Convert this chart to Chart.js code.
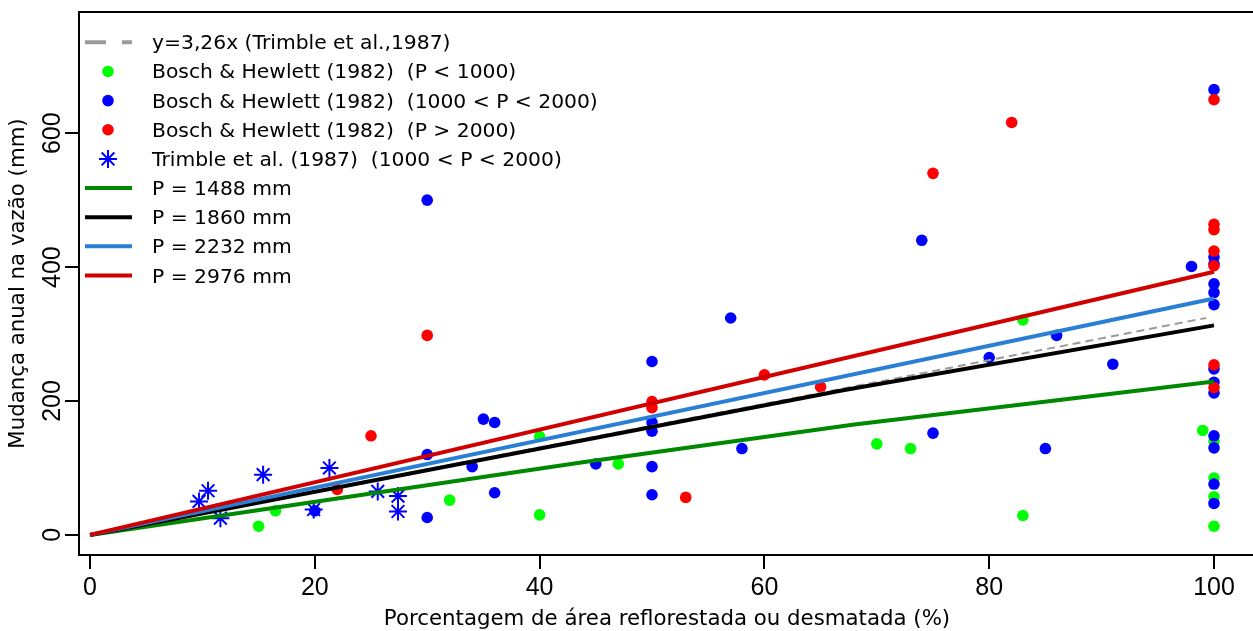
<!DOCTYPE html>
<html><head><meta charset="utf-8">
<script src="https://cdn.jsdelivr.net/npm/chart.js@4.4.1/dist/chart.umd.min.js"></script>
<style>html,body{margin:0;padding:0;background:#fff;overflow:hidden}</style>
</head><body>
<canvas id="c" width="1253" height="631"></canvas>
<script>
// ---- axis ticks ----
const xTicks = [0, 20, 40, 60, 80, 100];
const yTicks = [0, 200, 400, 600];

// ---- Bosch & Hewlett (1982) P < 1000 ----
const greenX = [15, 16.5, 32, 40, 40, 47, 70, 73, 83, 83, 99, 100, 100, 100, 100];
const greenY = [13, 36, 52, 147, 30, 106, 136, 129, 321, 29, 156, 140, 85, 57, 13];

// ---- Bosch & Hewlett (1982) 1000 < P < 2000 ----
const blueX = [30, 30, 30, 34, 35, 36, 36, 45, 50, 50, 50, 50, 50, 57, 58, 74, 75, 80, 85, 86, 91, 98,
               100, 100, 100, 100, 100, 100, 100, 100, 100, 100, 100, 100, 100, 20];
const blueY = [500, 120, 26, 102, 173, 168, 63, 106, 259, 168, 155, 102, 60, 324, 129, 440, 152, 265, 129, 298, 255, 401,
               665, 415, 405, 375, 362, 344, 248, 228, 212, 148, 130, 76, 47, 36];

// ---- Bosch & Hewlett (1982) P > 2000 ----
const redX = [22, 25, 30, 50, 50, 53, 60, 65, 75, 82, 100, 100, 100, 100, 100, 100, 100];
const redY = [68, 148, 298, 199, 190, 56, 239, 221, 540, 616, 650, 464, 456, 424, 402, 254, 220];

// ---- Trimble et al. (1987) 1000 < P < 2000 ----
const starX = [9.7, 10.5, 11.6, 15.4, 19.9, 21.3, 25.6, 27.4, 27.4];
const starY = [50, 66, 25, 90, 38, 100, 65, 58, 35];

// ---- fitted lines ----
const trimbleX = [0, 99.3], trimbleY = [0, 324];
const p1488X = [0, 44, 68, 100], p1488Y = [0, 109, 165, 229];
const p1860X = [0, 67, 100], p1860Y = [0, 216, 313];
const p2232X = [0, 100], p2232Y = [0, 353];
const p2976X = [0, 100], p2976Y = [0, 393];

const legendLabels = [
  "y=3,26x (Trimble et al.,1987)",
  "Bosch & Hewlett (1982)  (P < 1000)",
  "Bosch & Hewlett (1982)  (1000 < P < 2000)",
  "Bosch & Hewlett (1982)  (P > 2000)",
  "Trimble et al. (1987)  (1000 < P < 2000)",
  "P = 1488 mm",
  "P = 1860 mm",
  "P = 2232 mm",
  "P = 2976 mm"
];
const xTitle = "Porcentagem de área reflorestada ou desmatada (%)";
const yTitle = "Mudança anual na vazão (mm)";

const pts = (xs, ys) => xs.map((x, i) => ({x: x, y: ys[i]}));

const datasets = [
  {label: legendLabels[8], data: pts(p2976X, p2976Y), showLine: true, borderColor: '#d00000', borderWidth: 4, pointRadius: 0, order: 0, leg: 'line'},
  {label: legendLabels[7], data: pts(p2232X, p2232Y), showLine: true, borderColor: '#2a7fd4', borderWidth: 4, pointRadius: 0, order: 1, leg: 'line'},
  {label: legendLabels[6], data: pts(p1860X, p1860Y), showLine: true, borderColor: '#000000', borderWidth: 4, pointRadius: 0, order: 2, leg: 'line'},
  {label: legendLabels[5], data: pts(p1488X, p1488Y), showLine: true, borderColor: '#008800', borderWidth: 4, pointRadius: 0, order: 3, leg: 'line'},
  {label: legendLabels[0], data: pts(trimbleX, trimbleY), showLine: true, borderColor: '#9a9a9a', borderWidth: 2, borderDash: [8, 5], pointRadius: 0, order: 4, leg: 'dash'},
  {label: legendLabels[4], data: pts(starX, starY), showLine: false, pointStyle: 'star', pointRadius: 9, borderColor: '#0000ff', borderWidth: 2, backgroundColor: '#0000ff', order: 5, leg: 'star'},
  {label: legendLabels[3], data: pts(redX, redY), showLine: false, pointRadius: 5.8, pointBackgroundColor: '#ff0000', pointBorderWidth: 0, borderColor: '#ff0000', order: 6, leg: 'point'},
  {label: legendLabels[2], data: pts(blueX, blueY), showLine: false, pointRadius: 5.8, pointBackgroundColor: '#0000ff', pointBorderWidth: 0, borderColor: '#0000ff', order: 7, leg: 'point'},
  {label: legendLabels[1], data: pts(greenX, greenY), showLine: false, pointRadius: 5.8, pointBackgroundColor: '#00ff00', pointBorderWidth: 0, borderColor: '#00ff00', order: 8, leg: 'point'}
];

const decor = {
  id: 'decor',
  afterDraw(chart) {
    const ctx = chart.ctx, a = chart.chartArea, ys = chart.scales.y, W = chart.width;
    ctx.save();
    // frame (right side lies outside the picture, as in the original)
    ctx.strokeStyle = '#000'; ctx.lineWidth = 2;
    ctx.beginPath();
    ctx.moveTo(W + 2, a.top); ctx.lineTo(a.left, a.top); ctx.lineTo(a.left, a.bottom); ctx.lineTo(W + 2, a.bottom);
    ctx.stroke();
    // y tick labels (rotated, R style)
    ctx.fillStyle = '#000';
    ctx.font = '25px "Liberation Sans", Arial, sans-serif';
    ctx.textAlign = 'center'; ctx.textBaseline = 'alphabetic';
    ys.ticks.forEach(t => {
      const py = ys.getPixelForValue(t.value);
      ctx.save(); ctx.translate(60, py); ctx.rotate(-Math.PI / 2);
      ctx.fillText(String(t.value), 0, 0); ctx.restore();
    });
    // axis titles
    ctx.font = '21.3px "DejaVu Sans", sans-serif';
    ctx.fillText(xTitle, 667, 625);
    ctx.save(); ctx.translate(24, (a.top + a.bottom) / 2); ctx.rotate(-Math.PI / 2);
    ctx.fillText(yTitle, 0, 0); ctx.restore();
    // legend
    const legOrder = [4, 8, 7, 6, 5, 3, 2, 1, 0];
    ctx.font = '20.3px "DejaVu Sans", sans-serif';
    ctx.textAlign = 'left';
    legOrder.forEach((di, i) => {
      const ds = chart.data.datasets[di];
      const ry = 42.3 + 29.15 * i;
      if (ds.leg === 'line') {
        ctx.strokeStyle = ds.borderColor; ctx.lineWidth = 4; ctx.setLineDash([]);
        ctx.beginPath(); ctx.moveTo(85, ry); ctx.lineTo(132, ry); ctx.stroke();
      } else if (ds.leg === 'dash') {
        ctx.strokeStyle = ds.borderColor; ctx.lineWidth = 4; ctx.setLineDash([21, 16]);
        ctx.beginPath(); ctx.moveTo(85, ry); ctx.lineTo(132, ry); ctx.stroke();
        ctx.setLineDash([]);
      } else if (ds.leg === 'point') {
        ctx.fillStyle = ds.pointBackgroundColor;
        ctx.beginPath(); ctx.arc(108, ry, 5.8, 0, Math.PI * 2); ctx.fill();
      } else if (ds.leg === 'star') {
        ctx.strokeStyle = ds.borderColor; ctx.lineWidth = 2;
        const r = 9, d = r * Math.SQRT1_2;
        ctx.beginPath();
        ctx.moveTo(108 - r, ry); ctx.lineTo(108 + r, ry);
        ctx.moveTo(108, ry - r); ctx.lineTo(108, ry + r);
        ctx.moveTo(108 - d, ry - d); ctx.lineTo(108 + d, ry + d);
        ctx.moveTo(108 - d, ry + d); ctx.lineTo(108 + d, ry - d);
        ctx.stroke();
      }
      ctx.fillStyle = '#000';
      ctx.fillText(ds.label, 152, ry + 7);
    });
    ctx.restore();
  }
};

new Chart(document.getElementById('c'), {
  type: 'scatter',
  data: {datasets: datasets},
  options: {
    responsive: false, animation: false, devicePixelRatio: 1,
    layout: {autoPadding: false, padding: {left: 0, right: 0, top: 12, bottom: 0}},
    plugins: {legend: {display: false}, tooltip: {enabled: false}},
    scales: {
      x: {
        type: 'linear', min: -0.98, max: 103.47,
        afterBuildTicks: s => { s.ticks = xTicks.map(v => ({value: v})); },
        afterFit: s => { s.height = 76; s.paddingLeft = 0; s.paddingRight = 0; },
        grid: {display: true, drawOnChartArea: false, drawTicks: true, tickLength: 14, color: '#000', lineWidth: 2},
        border: {display: false},
        ticks: {font: {family: '"Liberation Sans", Arial, sans-serif', size: 25}, color: '#000', padding: 4, maxRotation: 0, autoSkip: false}
      },
      y: {
        type: 'linear', min: -30, max: 781,
        afterBuildTicks: s => { s.ticks = yTicks.map(v => ({value: v})); },
        afterFit: s => { s.width = 79; s.paddingTop = 0; s.paddingBottom = 0; },
        grid: {display: true, drawOnChartArea: false, drawTicks: true, tickLength: 14, color: '#000', lineWidth: 2},
        border: {display: false},
        ticks: {display: false}
      }
    }
  },
  plugins: [decor]
});
</script>
</body></html>
